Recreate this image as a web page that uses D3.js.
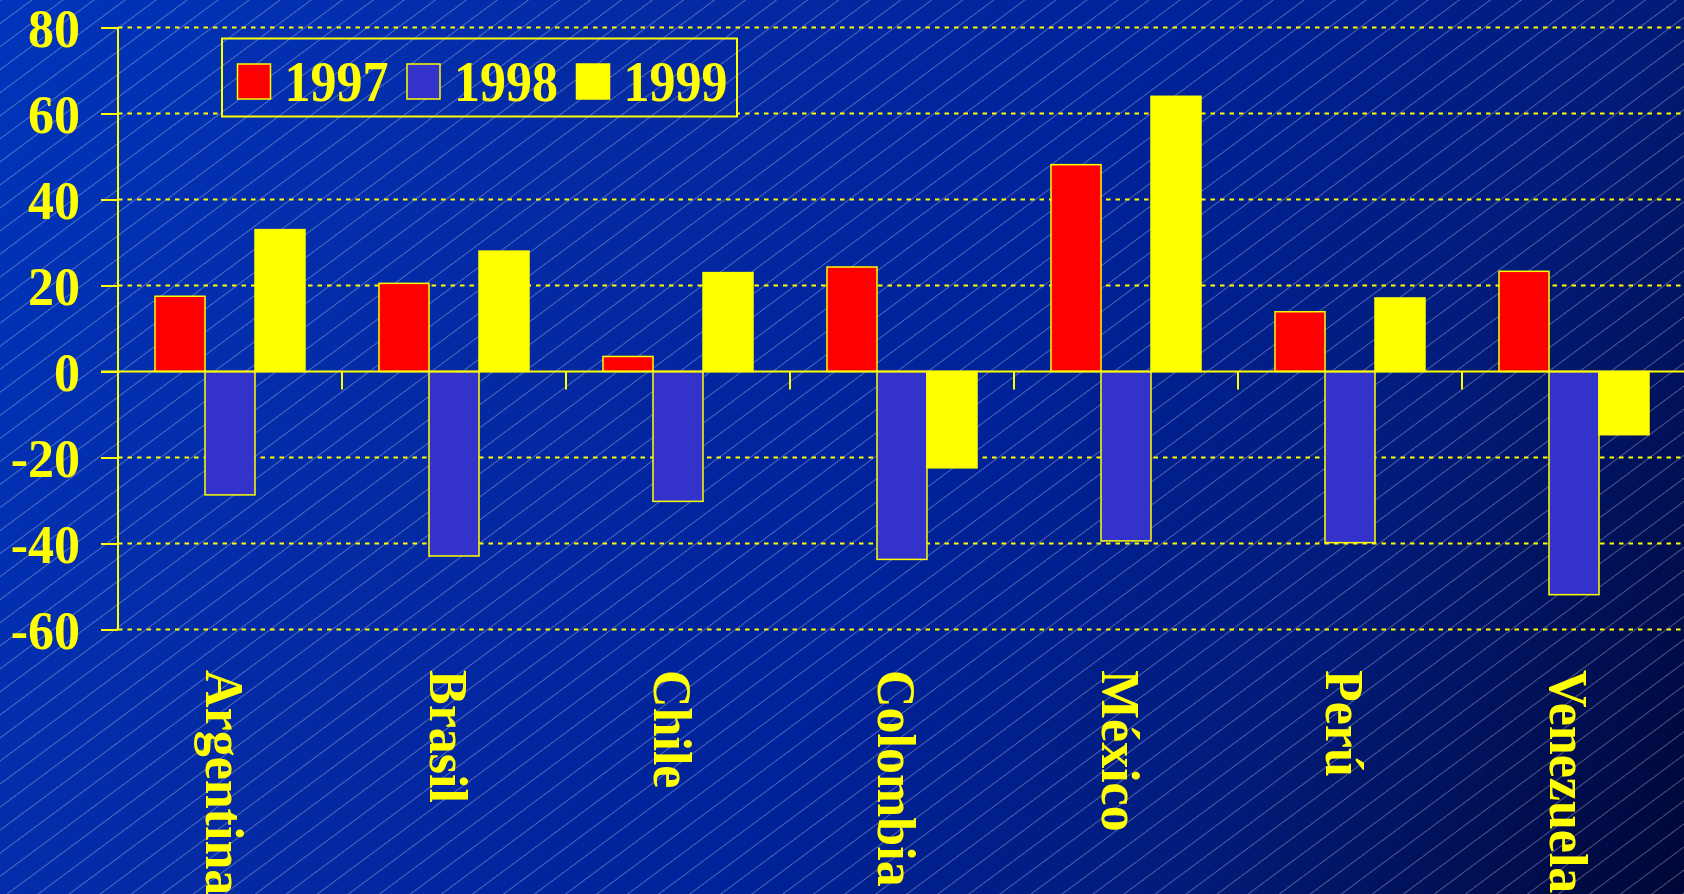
<!DOCTYPE html>
<html>
<head>
<meta charset="utf-8">
<script src="https://cdn.jsdelivr.net/npm/d3@7"></script>
<style>
  html, body { margin: 0; padding: 0; background: #001a80; overflow: hidden; }
  svg { display: block; }
  text { font-family: "Liberation Serif", "Times New Roman", serif; font-weight: bold; fill: #ffff00; }
</style>
</head>
<body>
<script>
const categories = ["Argentina", "Brasil", "Chile", "Colombia", "México", "Perú", "Venezuela"];
const seriesNames = ["1997", "1998", "1999"];
const values1997 = [17.5, 20.5, 3.5, 24.3, 48.1, 13.9, 23.3];
const values1998 = [-28.7, -42.9, -30.2, -43.7, -39.4, -39.8, -51.9];
const values1999 = [33.0, 28.0, 23.0, -22.4, 64.0, 17.1, -14.7];
const yTicks = [80, 60, 40, 20, 0, -20, -40, -60];
const seriesColors = ["#ff0000", "#3333cc", "#ffff00"];

const W = 1684, H = 894;
const seriesValues = [values1997, values1998, values1999];
const data = categories.map((c, i) => ({
  cat: c,
  vals: seriesNames.map((s, j) => ({ key: s, value: seriesValues[j][i], color: seriesColors[j] }))
}));

const svg = d3.select("body").append("svg").attr("width", W).attr("height", H);
const defs = svg.append("defs");

const grad = defs.append("linearGradient").attr("id", "bg")
  .attr("gradientUnits", "userSpaceOnUse")
  .attr("x1", 0).attr("y1", 0).attr("x2", W).attr("y2", H);
[[0, "#0034ba"], [0.3, "#042aa4"], [0.55, "#00229a"], [0.76, "#021c7c"], [1, "#000636"]]
  .forEach(([o, c]) => grad.append("stop").attr("offset", o).attr("stop-color", c));

const pat = defs.append("pattern").attr("id", "hatch")
  .attr("patternUnits", "userSpaceOnUse")
  .attr("width", 200).attr("height", 18.5)
  .attr("patternTransform", "rotate(-36.6)");
pat.append("line").attr("x1", 0).attr("x2", 200).attr("y1", 0.5).attr("y2", 0.5)
  .attr("stroke", "rgba(255,255,255,0.3)").attr("stroke-width", 1);

svg.append("rect").attr("width", W).attr("height", H).attr("fill", "url(#bg)");
svg.append("rect").attr("width", W).attr("height", H).attr("fill", "url(#hatch)");

const x0 = 118;
const y = d3.scaleLinear().domain([-60, 80]).range([629.5, 27.5]);
const x = d3.scaleBand().domain(categories).range([x0, x0 + 224 * categories.length]).paddingInner(0).paddingOuter(0);
const xs = d3.scaleBand().domain(seriesNames).range([0, x.bandwidth()]).paddingInner(0).paddingOuter(0.74);

// gridlines
svg.append("g").selectAll("line").data(yTicks.filter(t => t !== 0)).join("line")
  .attr("x1", x0).attr("x2", W)
  .attr("y1", d => y(d)).attr("y2", d => y(d))
  .attr("stroke", "#ffff00").attr("stroke-width", 2).attr("stroke-dasharray", "4.5,5");

// bars
const groups = svg.append("g").selectAll("g").data(data).join("g")
  .attr("transform", d => `translate(${x(d.cat)},0)`);
groups.selectAll("rect").data(d => d.vals).join("rect")
  .attr("x", d => xs(d.key))
  .attr("width", xs.bandwidth())
  .attr("y", d => y(Math.max(0, d.value)))
  .attr("height", d => Math.abs(y(d.value) - y(0)))
  .attr("fill", d => d.color)
  .attr("stroke", "#ffff00").attr("stroke-width", 1.5);

// y axis
const yAxis = d3.axisLeft(y).tickValues(yTicks).tickSize(17).tickPadding(21).tickFormat(d3.format("d"));
const ya = svg.append("g").attr("transform", `translate(${x0},0)`).call(yAxis);
ya.select(".domain").attr("stroke", "#ffff00").attr("stroke-width", 2).attr("d", `M-0,${y(80)}V${y(-60)}`);
ya.selectAll(".tick line").attr("stroke", "#ffff00").attr("stroke-width", 2);
ya.selectAll(".tick text").attr("fill", "#ffff00")
  .style("font-size", "52px").style("font-family", '"Liberation Serif", serif').style("font-weight", "bold")
  .attr("dy", null).attr("y", 0)
  .attr("transform", "scale(1,1.06)")
  .attr("dominant-baseline", "central");
ya.selectAll(".tick text").text(d => d < 0 ? "-" + Math.abs(d) : d);

// zero line
svg.append("line").attr("x1", 101).attr("x2", W).attr("y1", y(0)).attr("y2", y(0))
  .attr("stroke", "#ffff00").attr("stroke-width", 2);

// x ticks between groups
svg.append("g").selectAll("line").data(categories.slice(1)).join("line")
  .attr("x1", d => x(d)).attr("x2", d => x(d))
  .attr("y1", y(0)).attr("y2", y(0) + 18)
  .attr("stroke", "#ffff00").attr("stroke-width", 2);

// category labels
svg.append("g").selectAll("text").data(categories).join("text")
  .attr("transform", d => `translate(${x(d) + x.bandwidth() / 2 - 24},670) rotate(90) scale(1,1.06)`)
  .attr("x", 0).attr("y", 0)
  .style("font-size", "52px")
  .text(d => d);

// legend
const lg = svg.append("g");
lg.append("rect").attr("x", 222).attr("y", 38.5).attr("width", 515).attr("height", 78)
  .attr("fill", "url(#bg)");
lg.append("rect").attr("x", 222).attr("y", 38.5).attr("width", 515).attr("height", 78)
  .attr("fill", "url(#hatch)").attr("stroke", "#ffff00").attr("stroke-width", 2);
const items = lg.selectAll("g.item").data(seriesNames).join("g").attr("class", "item")
  .attr("transform", (d, i) => `translate(${237.5 + i * 169.5},0)`);
items.append("rect").attr("x", 0).attr("y", 64).attr("width", 33).attr("height", 35)
  .attr("fill", (d, i) => seriesColors[i]).attr("stroke", "#ffff00").attr("stroke-width", 1.5);
items.append("text").attr("transform", "translate(47,101) scale(1,1.1)")
  .style("font-size", "52px").text(d => d);
</script>
</body>
</html>
